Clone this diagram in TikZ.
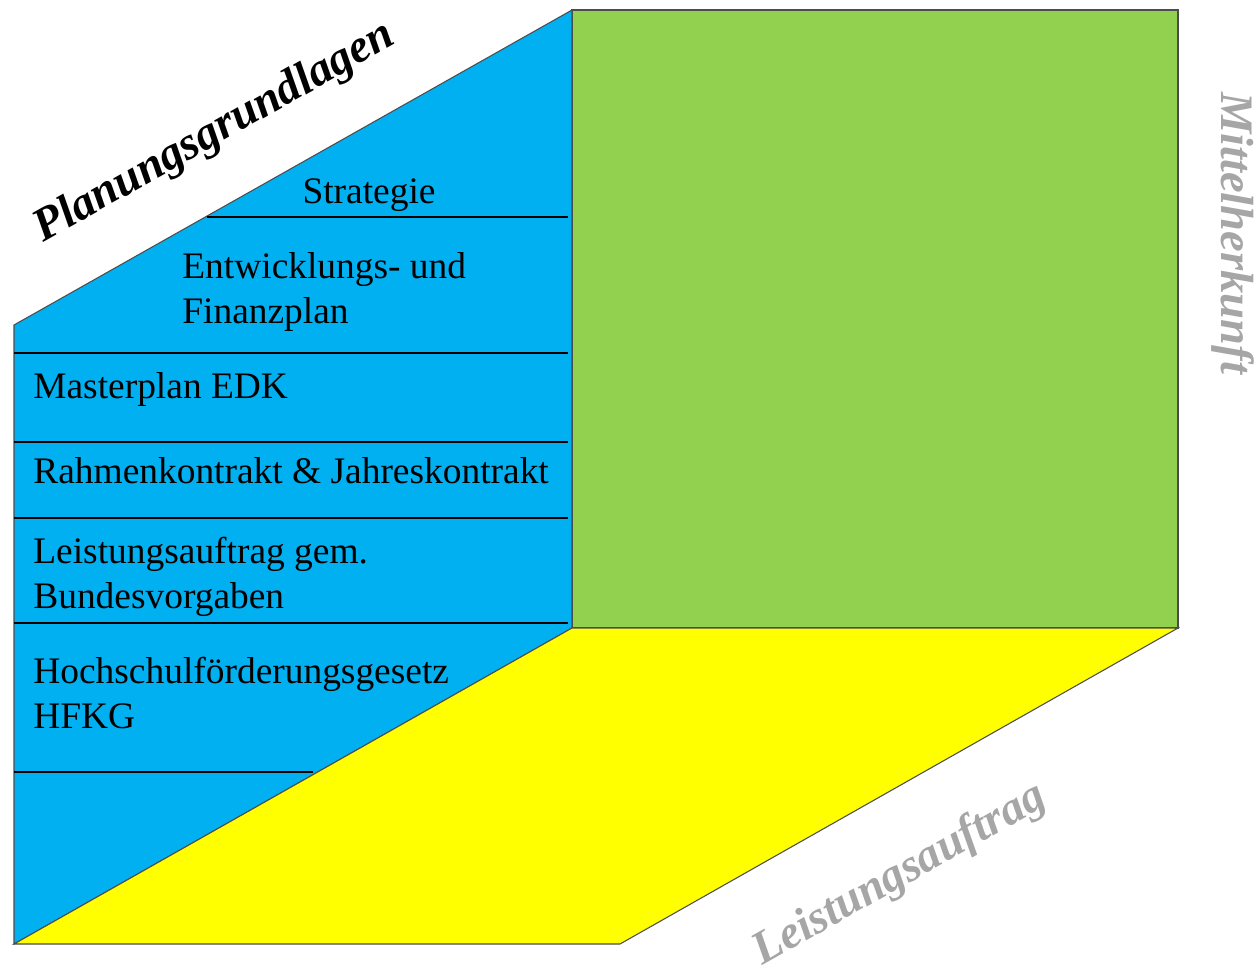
\documentclass[tikz,border=0pt]{standalone}
\usepackage{fontspec}
\setmainfont{Liberation Serif}
\usetikzlibrary{positioning}
\definecolor{faceblue}{HTML}{00B0F0}
\definecolor{facegreen}{HTML}{92D050}
\definecolor{faceyellow}{HTML}{FFFF00}
\definecolor{axisgray}{HTML}{A6A6A6}
\tikzstyle{face}=[draw=black!70, line width=0.6pt]
\tikzstyle{sep}=[draw=black, line width=1pt]

\begin{document}
\begin{tikzpicture}[x=0.02cm, y=-0.02cm,
        item/.style={anchor=base west, inner sep=0pt, align=left, font=\fontsize{21.3}{25.5}\selectfont},
        axis/.style={inner sep=0pt, font=\fontsize{26.5}{30}\selectfont\bfseries\itshape}
    ]
        \useasboundingbox (0,0) rectangle (1260,974);
        % corners of the three faces
        \coordinate (bl) at (14,944);
        \coordinate (ml) at (14,325);
        \coordinate (tm) at (572,10);
        \coordinate (cm) at (572,628);
        \coordinate (tr) at (1178,10);
        \coordinate (cr) at (1178,628);
        \coordinate (br) at (620,944);

        \fill [facegreen, face] (tm) rectangle (cr);
        \fill [faceblue, face] (bl) -- (ml) -- (tm) -- (cm) -- cycle;
        \fill [faceyellow, face] (bl) -- (cm) -- (cr) -- (br) -- cycle;

        % separators
        \draw [sep] (207,217) -- (568,217);
        \draw [sep] (14,353) -- (568,353);
        \draw [sep] (14,442) -- (568,442);
        \draw [sep] (14,518) -- (568,518);
        \draw [sep] (14,623) -- (568,623);
        \draw [sep] (14,772) -- (313,772);

        % base anchor of a two-line node sits on its last line
        \node (strat) [item, anchor=base] at (369,203) {Strategie};
        \node (efp) [item] at (182,323) {Entwicklungs- und\\Finanzplan};
        \node (edk) [item] at (33,398) {Masterplan EDK};
        \node (kontr) [item] at (33,483) {Rahmenkontrakt \& Jahreskontrakt};
        \node (lauf) [item] at (33,608) {Leistungsauftrag gem.\\Bundesvorgaben};
        \node (hfkg) [item] at (33,728) {Hochschulförderungsgesetz\\HFKG};

        \node (plan) [axis, rotate=29.45] at (215,133) {Planungsgrundlagen};
        \node (mittel) [axis, text=axisgray, rotate=-90] at (1233,233) {Mittelherkunft};
        \node (leist) [axis, text=axisgray, rotate=29.45] at (900,875) {Leistungsauftrag};
    \end{tikzpicture}
\end{document}
